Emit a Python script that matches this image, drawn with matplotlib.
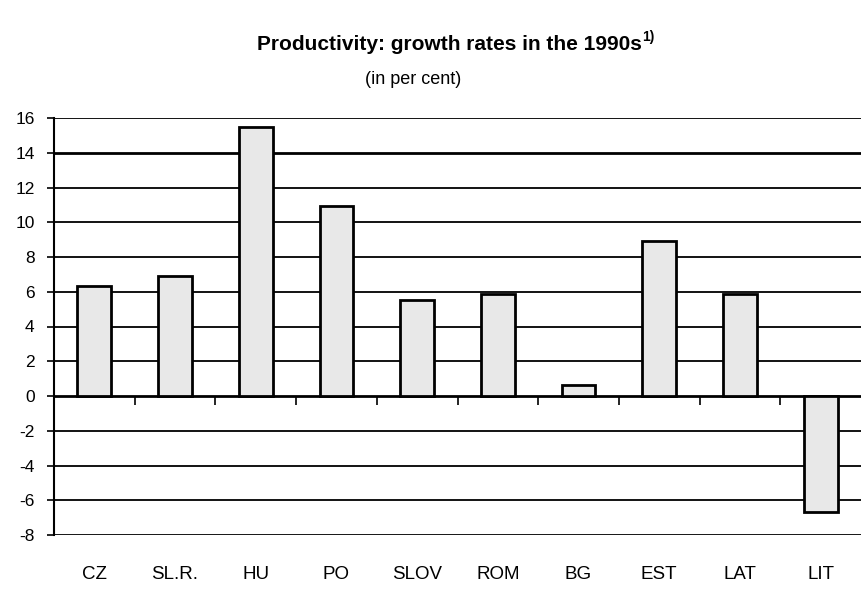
import numpy as np
import matplotlib
matplotlib.use("Agg")
import matplotlib.pyplot as plt

plt.rcParams['font.family'] = ['Liberation Sans', 'DejaVu Sans']

# data (per cent)
countries = ['CZ', 'SL.R.', 'HU', 'PO', 'SLOV', 'ROM', 'BG', 'EST', 'LAT', 'LIT']
growth = [6.35, 6.9, 15.5, 10.95, 5.5, 5.85, 0.65, 8.9, 5.85, -6.65]
yticks = [-8, -6, -4, -2, 0, 2, 4, 6, 8, 10, 12, 14, 16]

fig = plt.figure(figsize=(8.61, 5.89), dpi=100)
ax = fig.add_axes([54 / 861, 54 / 589, 1 - 54 / 861, (535 - 118) / 589])

x = np.arange(len(countries))

# gridlines (14, 0 and -8 drawn heavier like the original)
for t in yticks:
    lw = 2.0 if t in (14, -8, 0) else 1.3
    ax.axhline(t, color='black', lw=lw, zorder=1)

ax.bar(x, growth, width=0.42, color='#e8e8e8', edgecolor='black',
       linewidth=2, zorder=3)

# small ticks between categories hanging from the zero line
ax.vlines(x[:-1] + 0.5, -0.52, 0, color='black', lw=1.2, zorder=2)

ax.set_xlim(-0.5, len(countries) - 0.5)
ax.set_ylim(-8, 16)
ax.set_yticks(yticks)
ax.set_yticklabels([str(t) for t in yticks], fontsize=12.5)
ax.set_xticks(x)
ax.set_xticklabels(countries, fontsize=13.5)
ax.tick_params(axis='x', length=0, pad=22)
ax.tick_params(axis='y', length=5, width=1.2, pad=9)

for s in ['top', 'right', 'bottom']:
    ax.spines[s].set_visible(False)
ax.spines['left'].set_linewidth(1.5)

# title with superscript
title = fig.text(0.522, 1 - 45 / 589, 'Productivity: growth rates in the 1990s',
                 ha='center', va='center', fontsize=15, fontweight='bold')
fig.canvas.draw()
bb = title.get_window_extent()
fig.text(bb.x1 / fig.bbox.width, (bb.y1 - 1) / fig.bbox.height, '1)',
         ha='left', va='center', fontsize=10, fontweight='bold')
fig.text(413 / 861, 1 - 80 / 589, '(in per cent)', ha='center', va='center',
         fontsize=13)

fig.savefig('out.png', dpi=100)
